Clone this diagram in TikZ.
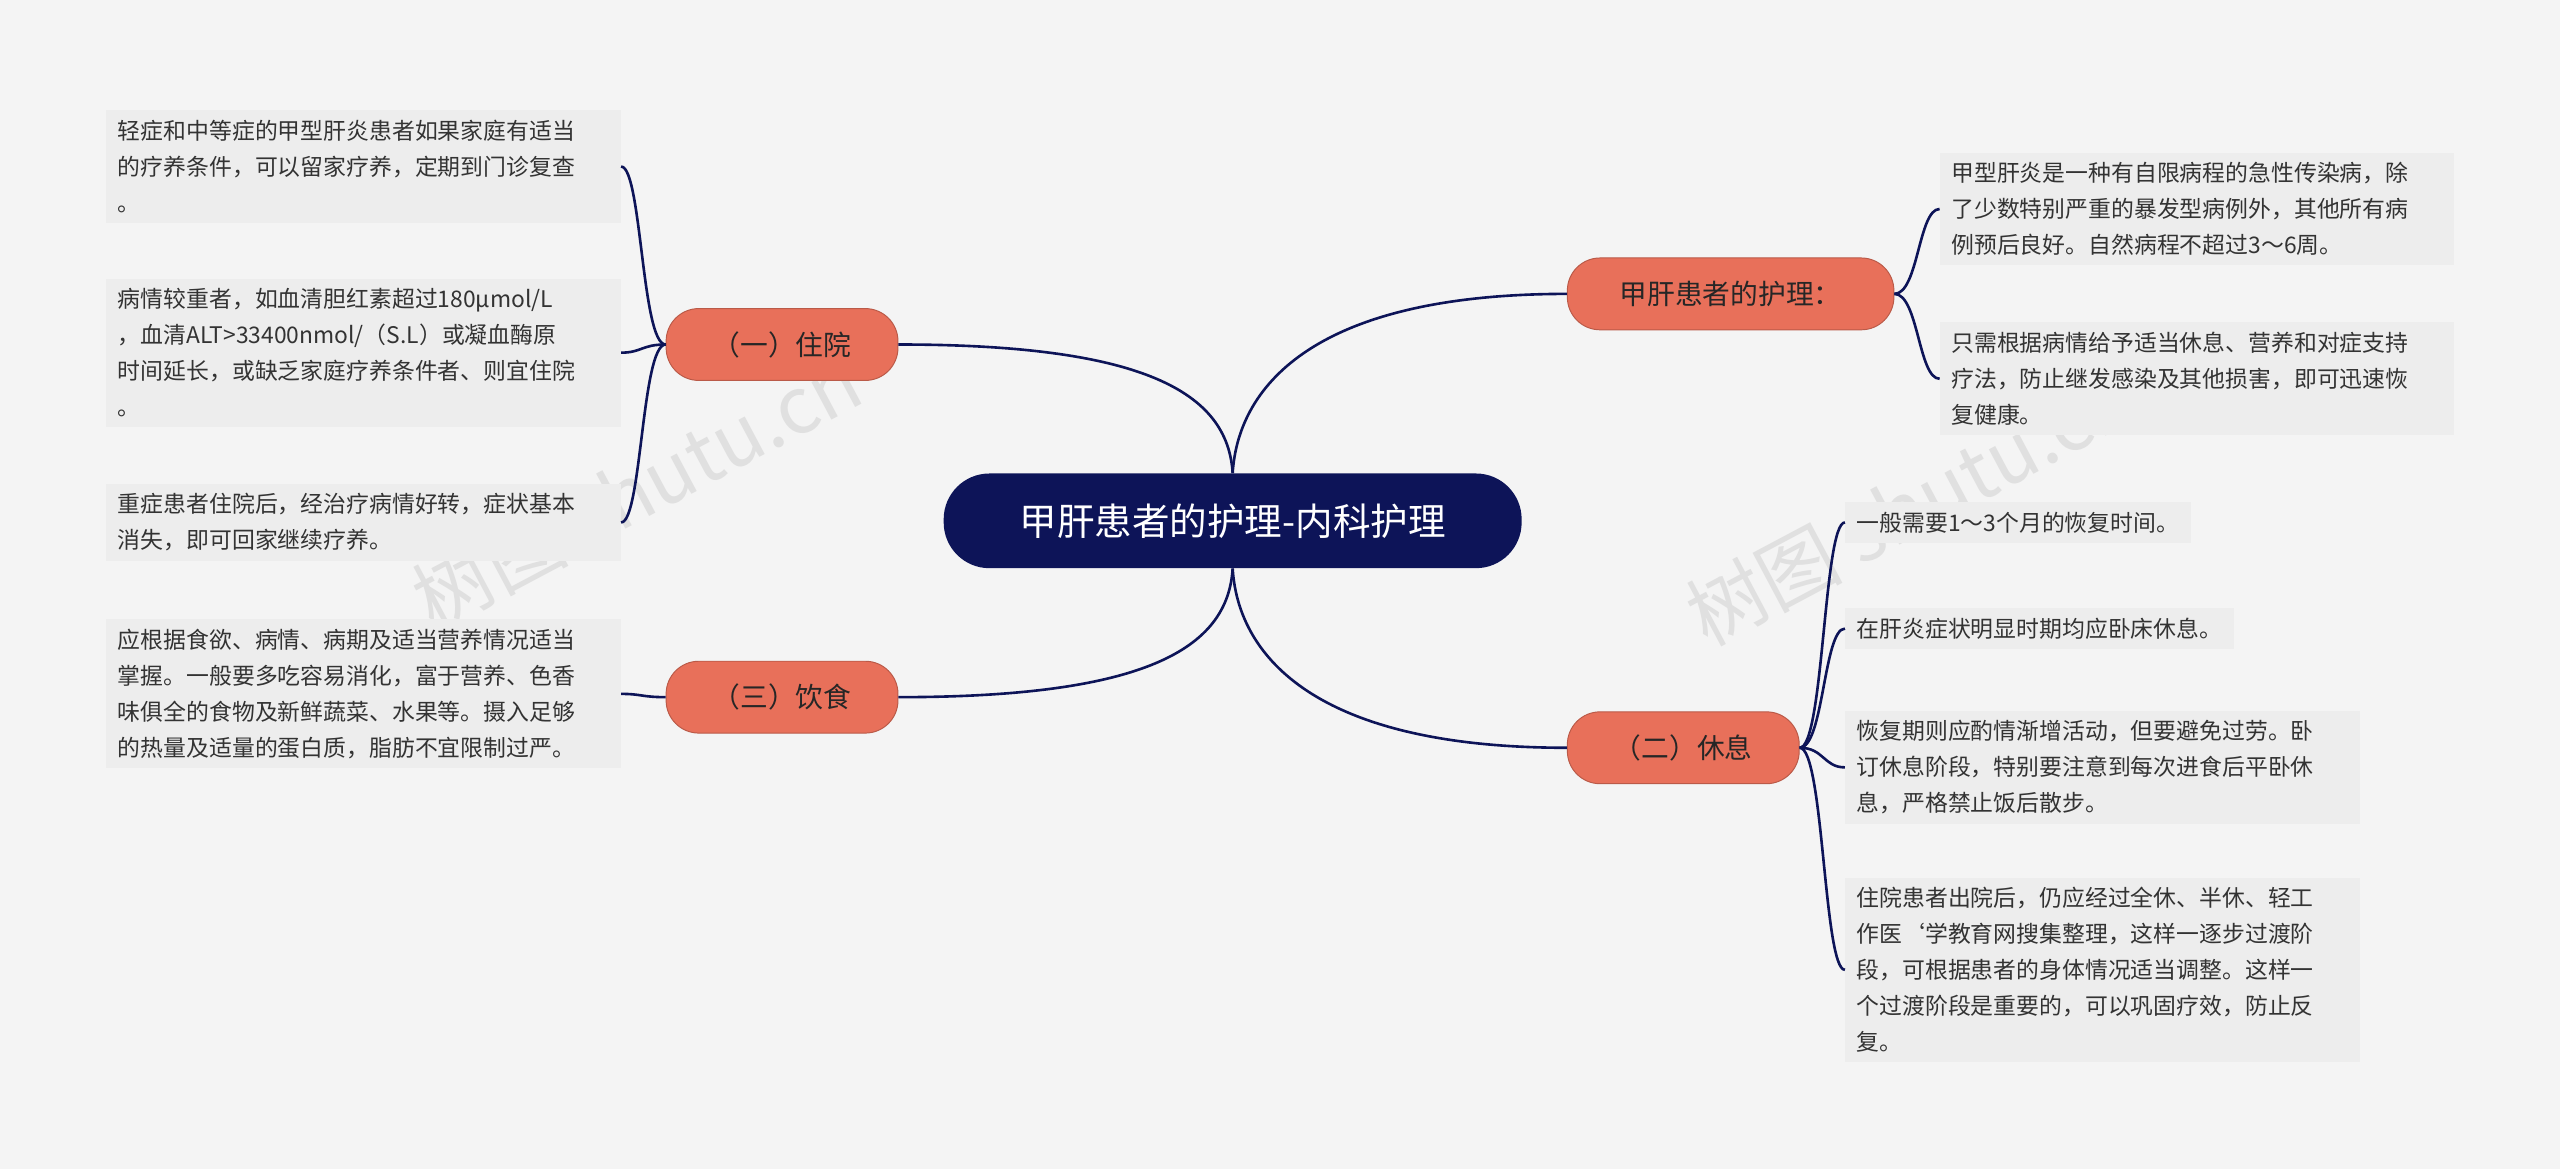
\documentclass[tikz,border=0pt]{standalone}
\usepackage{fontspec}
\setmainfont{Noto Sans CJK SC}
\begin{document}
\begin{tikzpicture}[x=1pt,y=-1pt,
  leaf/.style={fill=leafgray,anchor=west,align=left,inner xsep=7pt,inner ysep=6pt,font=\fontsize{14}{22}\selectfont,text=black!80},
  branch/.style={fill=branchor,draw=branchor!80!black,line width=0.6pt,rounded corners=20pt,minimum height=44pt,inner xsep=16pt,font=\fontsize{17}{20}\selectfont,text=black!85},
  conn/.style={draw=navy,line width=1.6pt}]
\definecolor{leafgray}{HTML}{EDEDED}
\definecolor{branchor}{HTML}{E8705A}
\definecolor{navy}{HTML}{0D1458}
\definecolor{bg}{HTML}{F4F4F4}
\fill[bg] (0,0) rectangle (1568,716);
\useasboundingbox (0,0) rectangle (1568,716);
\node[font=\fontsize{48}{50}\selectfont,text=black!12,rotate=28] (wm1) at (390,300) {树图 shutu.cn};
\node[font=\fontsize{48}{50}\selectfont,text=black!12,rotate=28] (wm2) at (1170,310) {树图 shutu.cn};

\node[fill=navy,rounded corners=28pt,minimum width=354pt,minimum height=58pt,text=white,font=\fontsize{23}{26}\selectfont] (c) at (755,319) {甲肝患者的护理-内科护理};
\node[branch,minimum width=142pt] (zy) at (479,211) {（一）住院};
\node[branch,minimum width=142pt] (ys) at (479,427) {（三）饮食};
\node[branch,minimum width=200pt] (hl) at (1060,180) {甲肝患者的护理：};
\node[branch,minimum width=142pt] (xx) at (1031,458) {（二）休息};
\coordinate (bl) at (393,0);
\coordinate (br1) at (1175,0);
\coordinate (br2) at (1117,0);

\node[leaf,text width=301pt] (l1) at (65,102) {轻症和中等症的甲型肝炎患者如果家庭有适当\\的疗养条件，可以留家疗养，定期到门诊复查\\。};
\node[leaf,text width=301pt] (l2) at (65,216) {病情较重者，如血清胆红素超过180µmol/L\\，血清ALT>33400nmol/（S.L）或凝血酶原\\时间延长，或缺乏家庭疗养条件者、则宜住院\\。};
\node[leaf,text width=301pt] (l3) at (65,320) {重症患者住院后，经治疗病情好转，症状基本\\消失，即可回家继续疗养。};
\node[leaf,text width=301pt] (l4) at (65,425) {应根据食欲、病情、病期及适当营养情况适当\\掌握。一般要多吃容易消化，富于营养、色香\\味俱全的食物及新鲜蔬菜、水果等。摄入足够\\的热量及适量的蛋白质，脂肪不宜限制过严。};
\node[leaf,text width=301pt] (r1) at (1188,128) {甲型肝炎是一种有自限病程的急性传染病，除\\了少数特别严重的暴发型病例外，其他所有病\\例预后良好。自然病程不超过3～6周。};
\node[leaf,text width=301pt] (r2) at (1188,232) {只需根据病情给予适当休息、营养和对症支持\\疗法，防止继发感染及其他损害，即可迅速恢\\复健康。};
\node[leaf] (r3) at (1130,320) {一般需要1～3个月的恢复时间。};
\node[leaf] (r4) at (1130,385) {在肝炎症状明显时期均应卧床休息。};
\node[leaf,text width=301pt] (r5) at (1130,470) {恢复期则应酌情渐增活动，但要避免过劳。卧\\订休息阶段，特别要注意到每次进食后平卧休\\息，严格禁止饭后散步。};
\node[leaf,text width=301pt] (r6) at (1130,594) {住院患者出院后，仍应经过全休、半休、轻工\\作医`学教育网搜集整理，这样一逐步过渡阶\\段，可根据患者的身体情况适当调整。这样一\\个过渡阶段是重要的，可以巩固疗效，防止反\\复。};

\draw[conn] (zy.east) .. controls (700,211) and (752,240) .. (c.north);
\draw[conn] (ys.east) .. controls (700,427) and (752,398) .. (c.south);
\draw[conn] (hl.west) .. controls (800,180) and (758,240) .. (c.north);
\draw[conn] (xx.west) .. controls (800,458) and (758,398) .. (c.south);
\foreach \l in {l1,l2,l3} \draw[conn] (zy.west) .. controls (bl|-zy.west) and (bl|-\l.east) .. (\l.east);
\foreach \l in {l4} \draw[conn] (ys.west) .. controls (bl|-ys.west) and (bl|-\l.east) .. (\l.east);
\foreach \l in {r1,r2} \draw[conn] (hl.east) .. controls (br1|-hl.east) and (br1|-\l.west) .. (\l.west);
\foreach \l in {r3,r4,r5,r6} \draw[conn] (xx.east) .. controls (br2|-xx.east) and (br2|-\l.west) .. (\l.west);
\end{tikzpicture}
\end{document}
